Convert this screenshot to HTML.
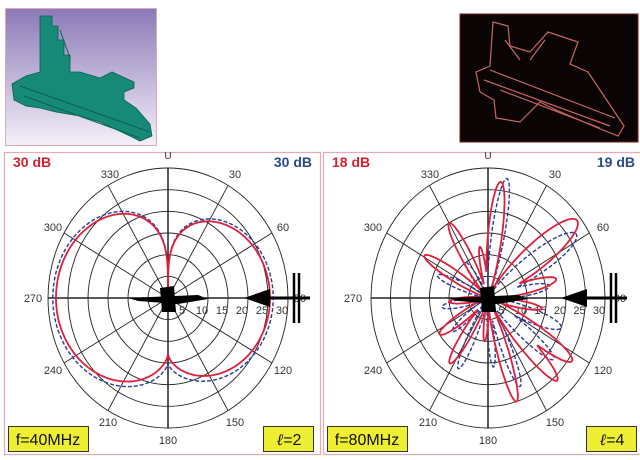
<!DOCTYPE html>
<html><head><meta charset="utf-8"><style>
body{margin:0;background:#fff;width:640px;height:460px;overflow:hidden;font-family:"Liberation Sans",sans-serif}
svg{position:absolute;left:0;top:0}
</style></head><body>
<svg id="s" width="640" height="460" viewBox="0 0 640 460" xmlns="http://www.w3.org/2000/svg">
<defs><linearGradient id="pg" x1="0" y1="0" x2="0" y2="1"><stop offset="0" stop-color="#8c7ab8"/><stop offset="1" stop-color="#f4f0f8"/></linearGradient></defs>
<rect x="5.5" y="8.5" width="151" height="137" fill="url(#pg)" stroke="#e0a8b4"/>
<g fill="#168a76" stroke="#0c5f50" stroke-width="0.8">
<polygon points="40,16 52,16 52,26 58,26 58,40 64,40 64,55 70,55 70,72 80,72 100,78 112,72 134,82 134,88 124,92 124,100 136,108 150,124 152,136 140,141 130,136 100,122 80,116 56,112 40,108 26,106 14,100 12,84 26,76 40,72 40,66"/>
</g>
<g stroke="#0c5f50" stroke-width="1" fill="none"><path d="M20,86 L150,132 M24,96 L140,138 M60,30 L70,58"/></g>
<rect x="460" y="14" width="178" height="128" fill="#0a0404" stroke="#7a1a1a"/>
<g fill="none" stroke="#e07070" stroke-width="1.2" opacity="0.9">
<polygon points="493,22 508,26 510,46 530,52 548,32 578,42 570,64 588,72 612,108 624,126 618,136 598,128 556,110 540,102 520,122 496,118 494,100 480,92 476,72 490,66"/>
<path d="M484,80 L610,126 M490,70 L615,118 M500,90 L600,128 M530,60 L545,40 M505,40 L520,60"/>
</g>
<g id="g"></g>
</svg>
<script>
const g=document.getElementById('g');let h='';
function ell(cx,cy,rx,ry,a){return [cx+rx*Math.sin(a),cy-ry*Math.cos(a)];}
function panel(x0,w,cx,cy,rx,ry,rl,rr,lf,ll,red,blue){
 h+=`<rect x="${x0+.5}" y="152.5" width="${w}" height="302" fill="#fff" stroke="#e6aab6" stroke-width="1.2"/>`;
 for(let k=1;k<=6;k++)h+=`<ellipse cx="${cx}" cy="${cy}" rx="${rx*k/6}" ry="${ry*k/6}" fill="none" stroke="#222" stroke-width="0.9"/>`;
 for(let d=0;d<360;d+=30){const a=d*Math.PI/180;const p=ell(cx,cy,rx,ry,a);h+=`<line x1="${cx}" y1="${cy}" x2="${p[0]}" y2="${p[1]}" stroke="#222" stroke-width="${d%90?0.9:1.5}"/>`;}
 const L={330:[-58,-124],30:[67,-124],300:[-115,-71],60:[115,-71],270:[-135,0],90:[132,0],240:[-115,72],120:[115,72],210:[-60,124],150:[67,124],180:[0,142]};
 for(const k in L)h+=`<text x="${cx+L[k][0]}" y="${cy+L[k][1]+4}" font-size="11" fill="#333" text-anchor="middle">${k}</text>`;
 h+=`<text x="${cx}" y="159" font-size="10" fill="#333" text-anchor="middle">U</text>`;
 [5,10,15,20,25,30].forEach((v,i)=>h+=`<text x="${cx+rx*(i+1)/6-6}" y="${cy+16}" font-size="11" fill="#333" text-anchor="middle">${v}</text>`);
 h+=`<text x="${x0+9}" y="167" font-size="14" font-weight="bold" fill="#d42030">${rl}</text>`;
 h+=`<text x="${x0+w-8}" y="167" font-size="14" font-weight="bold" fill="#2a4a8a" text-anchor="end">${rr}</text>`;
 function path(f,col,dash){let s='';for(let i=0;i<=720;i++){const a=i/720*2*Math.PI;const r=f(a*180/Math.PI)/30;const p=ell(cx,cy,rx*r,ry*r,a);s+=(i?'L':'M')+p[0].toFixed(1)+','+p[1].toFixed(1);}
  h+=`<path d="${s}Z" fill="none" stroke="${col}" stroke-width="${dash?1.4:1.8}" ${dash?'stroke-dasharray="4,2"':''}/>`;}
 path(blue,'#2a3a9a',true);path(red,'#e0203a',false);
 h+=`<path d="M${cx-40},${cy} L${cx+30},${cy-3} L${cx+40},${cy+1} L${cx+10},${cy+6} L${cx-30},${cy+3}Z M${cx-8},${cy-10} L${cx+6},${cy-12} L${cx+8},${cy+14} L${cx-6},${cy+14}Z" fill="#000"/>`;
 h+=`<line x1="${cx+rx-40}" y1="${cy}" x2="${cx+rx+22}" y2="${cy}" stroke="#000" stroke-width="3"/><polygon points="${cx+rx-44},${cy} ${cx+rx-18},${cy-9} ${cx+rx-18},${cy+9}" fill="#000"/>`;
 h+=`<line x1="${cx+rx+6}" y1="${cy-25}" x2="${cx+rx+6}" y2="${cy+25}" stroke="#000" stroke-width="2.5"/><line x1="${cx+rx+11}" y1="${cy-25}" x2="${cx+rx+11}" y2="${cy+25}" stroke="#000" stroke-width="2.5"/>`;
 h+=`<rect x="${x0+4.5}" y="426.5" width="80" height="25" fill="#eeee33" stroke="#333"/><text x="${x0+44}" y="445" font-size="16" text-anchor="middle" fill="#111">${lf}</text>`;
 h+=`<rect x="${x0+w-56.5}" y="426.5" width="50" height="25" fill="#eeee33" stroke="#333"/><text x="${x0+w-31}" y="445" font-size="16" text-anchor="middle" fill="#111"><tspan font-style="italic" font-family="Liberation Serif">ℓ</tspan>=${ll}</text>`;
}
function rad(d){return d*Math.PI/180;}
function left(bump,dip){return d=>{const s=Math.abs(Math.sin(rad(d)));const c=Math.cos(rad(d));const sc=(d>180?28:25.5)+bump;
 if(c>0)return Math.max(0.5,sc*Math.pow(s,0.32));return dip+(sc-dip)*Math.pow(s,0.7);};}
function lobes(L,fl){return d=>{let m=fl;for(const[c,p,w]of L){let dd=((d-c+540)%360)-180;m=Math.max(m,p*Math.exp(-(dd/w)*(dd/w)));}return m;};}
const R=lobes([[7,27,9],[52,29,14],[76,18,10],[100,14,8],[124,26,10],[137,26,9],[163,25,8],[185,10,7],[213,18,9],[236,15,10],[265,10,9],[301,19,9],[330,20,9],[350,12,7]],2);
const B=lobes([[10,28,8],[57,27,13],[80,16,10],[110,20,11],[130,22,9],[158,22,8],[175,16,7],[205,18,8],[230,12,9],[260,12,10],[292,14,9],[325,10,9]],2);
panel(4,316,168,298,120,130,'30 dB','30 dB','f=40MHz','2',left(0,13),left(0.8,15));
panel(323,320,488,298,117,130,'18 dB','19 dB','f=80MHz','4',R,B);
g.innerHTML=h;
</script>
</body></html>
